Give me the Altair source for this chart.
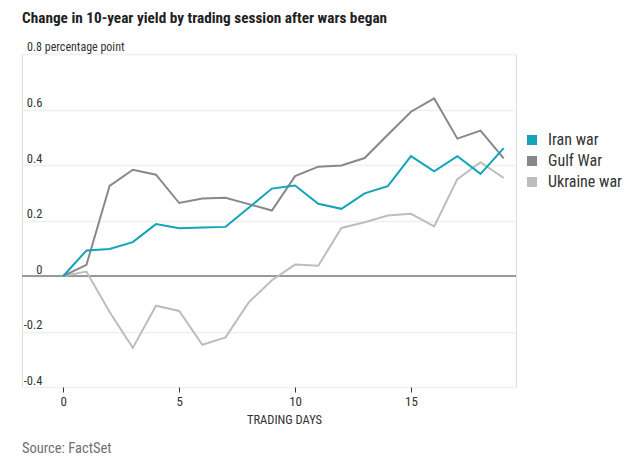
import altair as alt
import pandas as pd

days = list(range(20))
iran = [0, 0.092, 0.097, 0.122, 0.187, 0.172, 0.175, 0.177, 0.246, 0.315, 0.326,
        0.26, 0.242, 0.298, 0.324, 0.432, 0.377, 0.432, 0.368, 0.461]
gulf = [0, 0.04, 0.325, 0.383, 0.365, 0.263, 0.279, 0.282, 0.259, 0.236, 0.36,
        0.394, 0.398, 0.425, 0.509, 0.592, 0.64, 0.495, 0.524, 0.424]
ukraine = [0, 0.016, -0.13, -0.259, -0.107, -0.126, -0.248, -0.221, -0.095, -0.015, 0.041,
           0.037, 0.173, 0.194, 0.218, 0.224, 0.179, 0.349, 0.41, 0.353]
series_names = ["Iran war", "Gulf War", "Ukraine war"]
series_colors = ["#12a4bb", "#888888", "#bdbdbd"]
y_ticks = [-0.4, -0.2, 0, 0.2, 0.4, 0.6, 0.8]
x_ticks = [0, 5, 10, 15]
title_text = "Change in 10-year yield by trading session after wars began"
unit_label = ["0.8 percentage point"]
source_text = ["Source: FactSet"]

FONT = "Liberation Sans Narrow, Roboto Condensed, Roboto, sans-serif"

rows = []
for name, vals in zip(series_names, [iran, gulf, ukraine]):
    for d, v in zip(days, vals):
        rows.append({"day": d, "value": v, "series": name})
df = pd.DataFrame(rows)

W, H = 494, 333

x_scale = alt.Scale(domain=[-1.78, 19.53], nice=False, zero=False)
y_scale = alt.Scale(domain=[-0.4, 0.8], nice=False)
color_scale = alt.Scale(domain=series_names, range=series_colors)

x_axis = alt.Axis(values=x_ticks, title="TRADING DAYS", grid=False, domain=False,
                  tickColor="#333333", tickSize=5, tickWidth=1,
                  labelFont=FONT, labelFontSize=13, labelColor="#333333", labelPadding=3,
                  titleFont=FONT, titleFontSize=12.5, titleFontWeight="normal",
                  titleColor="#333333", titlePadding=5, titleX=262)
y_axis = alt.Axis(values=y_ticks, title=None, domain=False, ticks=False, tickSize=0,
                  grid=True, gridColor="#efefef", gridWidth=1.5,
                  labelFont=FONT, labelFontSize=12.5, labelColor="#333333",
                  labelAlign="right", labelBaseline="alphabetic", labelPadding=-20,
                  labelOffset=-3,
                  labelExpr="datum.value > 0.75 ? '' : (datum.value < 0 ? '-' + format(abs(datum.value), '.1f') : (datum.value == 0 ? '0' : format(datum.value, '.1f')))")

legend = alt.Legend(
    title=None, orient="none", legendX=502, legendY=78,
    symbolType="square", symbolSize=25, symbolStrokeWidth=5,
    labelFont=FONT, labelFontSize=16, labelColor="#333333",
    rowPadding=-5.8, labelOffset=8)

base = alt.Chart(df)

grid_layer = base.mark_rule(opacity=0).encode(
    x=alt.X("day:Q", scale=x_scale, axis=x_axis),
    y=alt.Y("value:Q", scale=y_scale, axis=y_axis),
)

zero = alt.Chart(pd.DataFrame({"z": [0]})).mark_rule(color="#999999", strokeWidth=2).encode(
    y=alt.Y("z:Q", scale=y_scale),
)

def line_layer(name):
    return base.transform_filter(alt.datum.series == name).mark_line(strokeWidth=2).encode(
        x=alt.X("day:Q", scale=x_scale),
        y=alt.Y("value:Q", scale=y_scale),
        color=alt.Color("series:N", scale=color_scale, legend=legend),
    )

unit = alt.Chart(pd.DataFrame({"t": unit_label, "v": [0.8]})).mark_text(
    align="left", baseline="alphabetic", dy=-3, font=FONT, fontSize=12, color="#333333"
).encode(x=alt.value(5), y=alt.Y("v:Q", scale=y_scale), text="t:N")

source = alt.Chart(pd.DataFrame({"t": source_text})).mark_text(
    align="left", baseline="middle", font=FONT, fontSize=14.5, color="#707070"
).encode(x=alt.value(0), y=alt.value(395), text="t:N")

chart = alt.layer(
    grid_layer, zero, line_layer("Ukraine war"), line_layer("Gulf War"), line_layer("Iran war"),
    unit, source
).properties(
    width=W, height=H,
    title=alt.TitleParams(title_text, anchor="start", frame="group", font=FONT,
                          fontSize=15.25, fontWeight="bold", color="#222222", offset=15),
    autosize=alt.AutoSizeParams(type="none"),
    padding={"left": 14, "top": 46, "right": 112, "bottom": 70},
).configure_view(stroke=None).configure(background="white")

chart.save("out.html", embed_options={"renderer": "svg", "actions": False})
